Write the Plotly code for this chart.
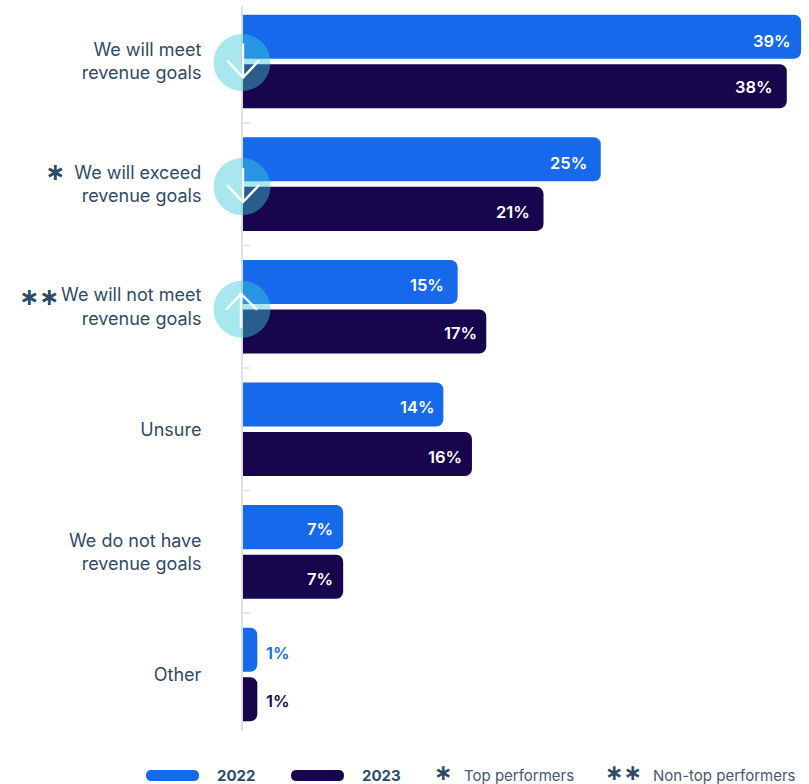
import plotly.graph_objects as go

categories = ["We will meet<br>revenue goals", "We will exceed<br>revenue goals",
              "We will not meet<br>revenue goals", "Unsure",
              "We do not have<br>revenue goals", "Other"]
values_2022 = [39, 25, 15, 14, 7, 1]
values_2023 = [38, 21, 17, 16, 7, 1]
changes = ["down", "down", "up", None, None, None]
markers = {"We will exceed<br>revenue goals": ("∗", -188, 12.5),
           "We will not meet<br>revenue goals": ("∗∗", -204.5, 9.7)}

# Pixel nudges that keep each row's arrow and halo on its group
halo_centres = [-1, -2.5, -2.5]
arrow_offsets = [1, -1, 0]

# Per-label placement of the value texts: distance from the bar end, vertical nudge
insets_2022 = [8, 12, 12, 6.5, 8, 7]
insets_2023 = [12, 12, 7, 8, 8, 7]
nudges_2022 = [-2, -1, -1, 0, 0, -1]
nudges_2023 = [1, -1, 0, -1, -1, 0]

BLUE = "#1569EA"
NAVY = "#17064D"
SLATE = "#2F4A66"
AXIS = "#DDE1E7"
FONT = "Inter"
MARK_FONT = dict(family="DejaVu Sans", weight=700, color=SLATE)
W, H = 809, 784

# Plot area in pixels and the spacing between category groups
LEFT, AREA_TOP, AREA_BOTTOM = 243, 6, 731
STEP, FIRST = 122.6, 61.5
PX_PER_UNIT = 14.31

fig = go.Figure()
for name, vals, colour in (("2022", values_2022, BLUE), ("2023", values_2023, NAVY)):
    fig.add_bar(name=name, y=categories, x=vals, orientation="h", marker_color=colour,
                marker_line_width=0, showlegend=False, hoverinfo="skip")

annotations = []
shapes = []

# Value labels: inside the bar end, or just past it for very short bars
for vals, colour, yshift, insets, nudges in (
        (values_2022, BLUE, 22.5, insets_2022, nudges_2022),
        (values_2023, NAVY, -26.5, insets_2023, nudges_2023)):
    for cat, v, inset, nudge in zip(categories, vals, insets, nudges):
        inside = v >= 5
        annotations.append(dict(
            x=v, y=cat, xref="x", yref="y", text=f"{v}%", showarrow=False,
            xanchor="right" if inside else "left", xshift=-inset if inside else inset,
            yshift=yshift + nudge, font=dict(family=FONT, size=16.5, weight=600,
                                             color="white" if inside else colour)))

# Halo and arrow on the baseline of groups that changed
for i, (cat, direction) in enumerate(zip(categories, changes)):
    if direction is None:
        continue
    base = dict(xref="paper", yref="y", xsizemode="pixel", ysizemode="pixel", xanchor=0, yanchor=cat)
    c = halo_centres[i]
    shapes.append(dict(type="circle", x0=-29.5, x1=27.5, y0=c - 28.5, y1=c + 28.5,
                       fillcolor="rgba(64,202,217,0.45)", line_width=0, **base))
    d = arrow_offsets[i]
    if direction == "down":
        path = f"M 0 {17 + d} L 0 {-17 + d} M -16 {d} L 0 {-17 + d} L 16 {d}"
    else:
        path = "M -2 13 L -2 -21 M -17 -3 L -2 13 L 14 -3"
    shapes.append(dict(type="path", path=path, line=dict(color="white", width=2.4), **base))

# Separator ticks between groups
for cat in categories[:-1]:
    shapes.append(dict(type="line", xref="paper", yref="y", xsizemode="pixel", ysizemode="pixel",
                       xanchor=0, yanchor=cat, x0=0, x1=7, y0=-STEP / 2, y1=-STEP / 2,
                       line=dict(color=AXIS, width=1.5)))

# Asterisks marking performer groups
for cat, (mark, xshift, yshift) in markers.items():
    annotations.append(dict(x=0, y=cat, xref="x", yref="y", text=mark, showarrow=False,
                            xanchor="center", xshift=xshift, yshift=yshift,
                            font=dict(size=24, **MARK_FONT)))

# Legend row, positioned in paper fractions of the plot area
def px(x):
    return (x - LEFT) / (W - LEFT)

def py(y):
    return (AREA_BOTTOM - y) / (AREA_BOTTOM - AREA_TOP)

PILL = "M 5.5 5.5 L 47.5 5.5 Q 53 5.5 53 0 Q 53 -5.5 47.5 -5.5 L 5.5 -5.5 Q 0 -5.5 0 0 Q 0 5.5 5.5 5.5 Z"
for x0, colour, label, tx in ((146, BLUE, "2022", 215), (291, NAVY, "2023", 359.5)):
    shapes.append(dict(type="path", xref="paper", yref="paper", xsizemode="pixel", ysizemode="pixel",
                       xanchor=px(x0), yanchor=py(775.5), path=PILL, fillcolor=colour, line_width=0))
    annotations.append(dict(xref="paper", yref="paper", x=px(tx), y=py(775.5), xanchor="left", yanchor="middle",
                            text=label, showarrow=False,
                            font=dict(family=FONT, size=15, weight=700, color=SLATE)))
for sym, sx, label, tx in (("∗", 443, "Top performers", 462), ("∗∗", 623.5, "Non-top performers", 651)):
    annotations.append(dict(xref="paper", yref="paper", x=px(sx), y=py(772), xanchor="center", yanchor="middle",
                            text=sym, showarrow=False, font=dict(size=22, **MARK_FONT)))
    annotations.append(dict(xref="paper", yref="paper", x=px(tx), y=py(775.5), xanchor="left", yanchor="middle",
                            text=label, showarrow=False,
                            font=dict(family=FONT, size=15, color="#44586F")))

fig.update_layout(
    width=W, height=H, paper_bgcolor="white", plot_bgcolor="white",
    margin=dict(l=LEFT, r=0, t=AREA_TOP, b=H - AREA_BOTTOM, pad=0),
    barmode="group", bargap=0.192, bargroupgap=0.111, barcornerradius=7,
    shapes=shapes, annotations=annotations,
    font=dict(family=FONT),
    xaxis=dict(range=[0, (W - LEFT) / PX_PER_UNIT], visible=False, fixedrange=True),
    yaxis=dict(range=[(AREA_BOTTOM - FIRST) / STEP, (AREA_TOP - FIRST) / STEP],
               showgrid=False, showline=True, linecolor=AXIS, linewidth=2, ticks="",
               ticklabelstandoff=36,
               tickfont=dict(family=FONT, size=18, color=SLATE)),
)
fig.write_html("out.html")
